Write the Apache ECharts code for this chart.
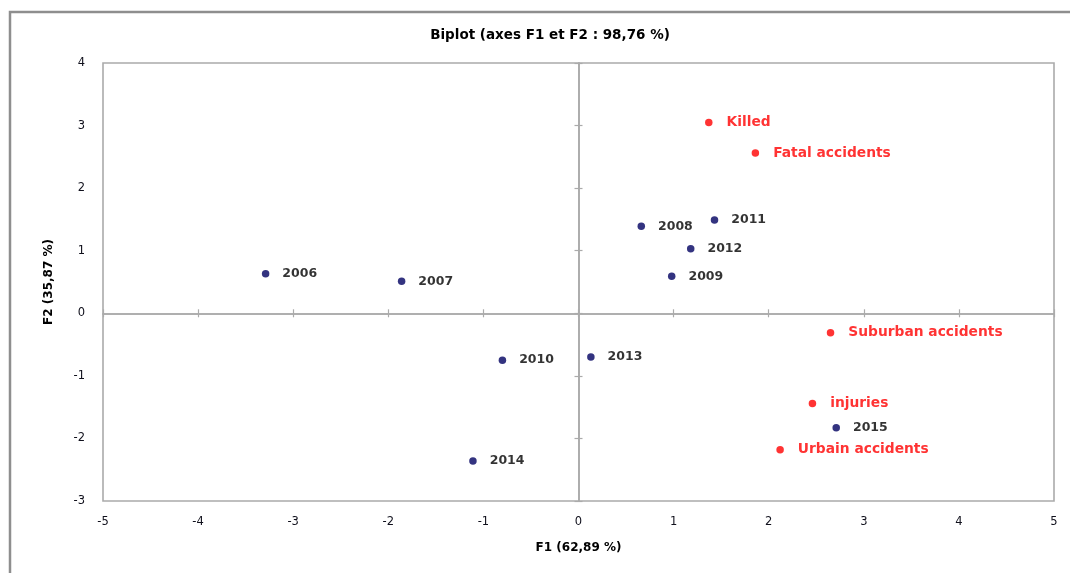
<!DOCTYPE html>
<html>
<head>
<meta charset="utf-8">
<script src="https://cdn.jsdelivr.net/npm/echarts@6/dist/echarts.min.js"></script>
<style>
  html, body { margin: 0; padding: 0; background: #ffffff; }
  #chart { width: 1070px; height: 573px; }
</style>
</head>
<body>
<div id="chart"></div>
<script>
// Observations (years) projected on F1 / F2
const yearNames = ['2006', '2007', '2008', '2009', '2010', '2011', '2012', '2013', '2014', '2015'];
const yearF1 = [-3.29, -1.86, 0.66, 0.98, -0.80, 1.43, 1.18, 0.13, -1.11, 2.71];
const yearF2 = [0.63, 0.51, 1.39, 0.59, -0.75, 1.49, 1.03, -0.70, -2.36, -1.83];

// Variables projected on F1 / F2
const varNames = ['Killed', 'Fatal accidents', 'Suburban accidents', 'injuries', 'Urbain accidents'];
const varF1 = [1.37, 1.86, 2.65, 2.46, 2.12];
const varF2 = [3.05, 2.56, -0.31, -1.44, -2.18];

// Axis ranges
const xMin = -5, xMax = 5;
const yMin = -3, yMax = 4;
const step = 1;

const toPoints = (names, xs, ys) => names.map((n, i) => ({ name: n, value: [xs[i], ys[i]] }));

const FONT = 'DejaVu Sans';
const lineGray = '#ababab';
const gridRect = { left: 103, right: 16, top: 63, bottom: 72 };

const chart = echarts.init(document.getElementById('chart'), null, { renderer: 'canvas' });

// Zero-crossing axes: drawn twice (both sides) so the ticks cross the line
const zeroAxis = (extra) => Object.assign({
  type: 'value',
  gridIndex: 1,
  axisLine: { show: true, onZero: true, lineStyle: { color: lineGray, width: 1.6 } },
  axisTick: { show: true, inside: false, length: 4, lineStyle: { color: lineGray, width: 1.2 } },
  axisLabel: { show: false },
  splitLine: { show: false }
}, extra);

chart.setOption({
  animation: false,
  backgroundColor: '#ffffff',
  title: {
    text: 'Biplot (axes F1 et F2 : 98,76 %)',
    left: 545,
    textAlign: 'center',
    top: 23,
    textStyle: { fontFamily: FONT, fontSize: 13.5, fontWeight: 'bold', color: '#000000' }
  },
  graphic: [{
    type: 'rect',
    silent: true,
    z: -10,
    shape: { x: 10, y: 12, width: 1200, height: 700 },
    style: { fill: 'none', stroke: '#8e8e8e', lineWidth: 2.5 }
  }],
  grid: [
    Object.assign({ show: true, borderColor: lineGray, borderWidth: 1.6, backgroundColor: 'transparent' }, gridRect),
    Object.assign({ show: false }, gridRect)
  ],
  xAxis: [
    {
      type: 'value', gridIndex: 0, min: xMin, max: xMax, interval: step,
      name: 'F1 (62,89 %)', nameLocation: 'middle', nameGap: 41,
      nameTextStyle: { fontFamily: FONT, fontSize: 12, fontWeight: 'bold', color: '#000000' },
      axisLine: { show: false, onZero: false },
      axisTick: { show: false },
      splitLine: { show: false },
      axisLabel: { fontFamily: FONT, fontSize: 11.5, color: '#10101c', margin: 15 }
    },
    zeroAxis({ min: xMin, max: xMax, interval: step, position: 'bottom' }),
    zeroAxis({ min: xMin, max: xMax, interval: step, position: 'top' })
  ],
  yAxis: [
    {
      type: 'value', gridIndex: 0, min: yMin, max: yMax, interval: step,
      name: 'F2 (35,87 %)', nameLocation: 'middle', nameGap: 48,
      nameTextStyle: { fontFamily: FONT, fontSize: 12, fontWeight: 'bold', color: '#000000' },
      axisLine: { show: false, onZero: false },
      axisTick: { show: false },
      splitLine: { show: false },
      axisLabel: { fontFamily: FONT, fontSize: 11.5, color: '#10101c', margin: 18 }
    },
    zeroAxis({ min: yMin, max: yMax, interval: step, position: 'left' }),
    zeroAxis({ min: yMin, max: yMax, interval: step, position: 'right' })
  ],
  series: [
    {
      name: 'Observations',
      type: 'scatter',
      xAxisIndex: 0, yAxisIndex: 0,
      symbol: 'circle', symbolSize: 7.5,
      itemStyle: { color: '#000060' },
      data: toPoints(yearNames, yearF1, yearF2),
      label: {
        show: true, position: 'right', distance: 13,
        formatter: '{b}',
        fontFamily: FONT, fontSize: 12.5, fontWeight: 'bold', color: '#000000'
      }
    },
    {
      name: 'Variables',
      type: 'scatter',
      xAxisIndex: 0, yAxisIndex: 0,
      symbol: 'circle', symbolSize: 7.5,
      itemStyle: { color: '#ff0000' },
      data: toPoints(varNames, varF1, varF2),
      label: {
        show: true, position: 'right', distance: 14,
        formatter: '{b}',
        fontFamily: FONT, fontSize: 13.8, fontWeight: 'bold', color: '#ff0000'
      }
    }
  ]
});
</script>
</body>
</html>
